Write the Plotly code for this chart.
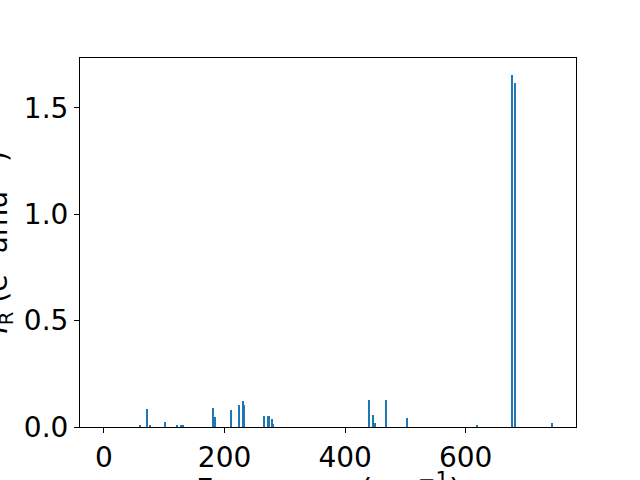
import plotly.graph_objects as go

freqs = [60, 72, 77, 101.8, 120.6, 128.5, 130.5, 181.5, 183.7, 211.3, 223.5, 231.2, 232.9,
         266, 272.7, 274.4, 279.4, 281, 439.3, 446, 449.8, 467.5, 502.9, 619.6, 676.7, 682.6, 744]
intens = [0.006, 0.085, 0.006, 0.024, 0.009, 0.005, 0.005, 0.089, 0.047, 0.080, 0.103, 0.122, 0.104,
          0.052, 0.052, 0.052, 0.038, 0.014, 0.127, 0.056, 0.019, 0.127, 0.042, 0.009, 1.655, 1.617, 0.019]

x_ticks = [0, 200, 400, 600]
y_ticks = [0.0, 0.5, 1.0, 1.5]

FONT = "DejaVu Sans"

fig = go.Figure(go.Bar(x=freqs, y=intens, width=2.0, marker=dict(color="#1f77b4", line=dict(width=0))))

fig.update_layout(
    template="none",
    width=640, height=480,
    margin=dict(l=80, r=64, t=58, b=53, pad=0),
    paper_bgcolor="white", plot_bgcolor="white",
    font=dict(family=FONT, size=28, color="black"),
    showlegend=False,
    bargap=0,
)
axis_common = dict(showgrid=False, zeroline=False, showline=True, linecolor="black", linewidth=1.1,
                   mirror=True, ticks="outside", ticklen=5, tickwidth=1.1, tickcolor="black",
                   automargin=False, tickfont=dict(family=FONT, size=28, color="black"))
fig.update_xaxes(range=[-39.8, 783], tickvals=x_ticks, ticktext=[str(v) for v in x_ticks], **axis_common)
fig.update_yaxes(range=[0, 1.735], tickvals=y_ticks, ticktext=[f"{v:.1f}" for v in y_ticks], **axis_common)

fig.add_annotation(text="Frequency (cm<sup>\u22121</sup>)", xref="paper", yref="paper", x=0.5, y=0,
                   xanchor="center", yanchor="middle", yshift=-60, showarrow=False,
                   font=dict(family=FONT, size=30, color="black"))
fig.add_annotation(text="<i>I</i><sub>R</sub> (e<sup>2</sup> amu<sup>\u22121</sup>)", xref="paper", yref="paper",
                   x=0, y=0.5, xanchor="center", yanchor="middle", xshift=-82, textangle=-90,
                   showarrow=False, font=dict(family=FONT, size=28, color="black"))

fig.write_html("out.html", config={"displayModeBar": False},
               post_script="document.body.style.margin='0';")
